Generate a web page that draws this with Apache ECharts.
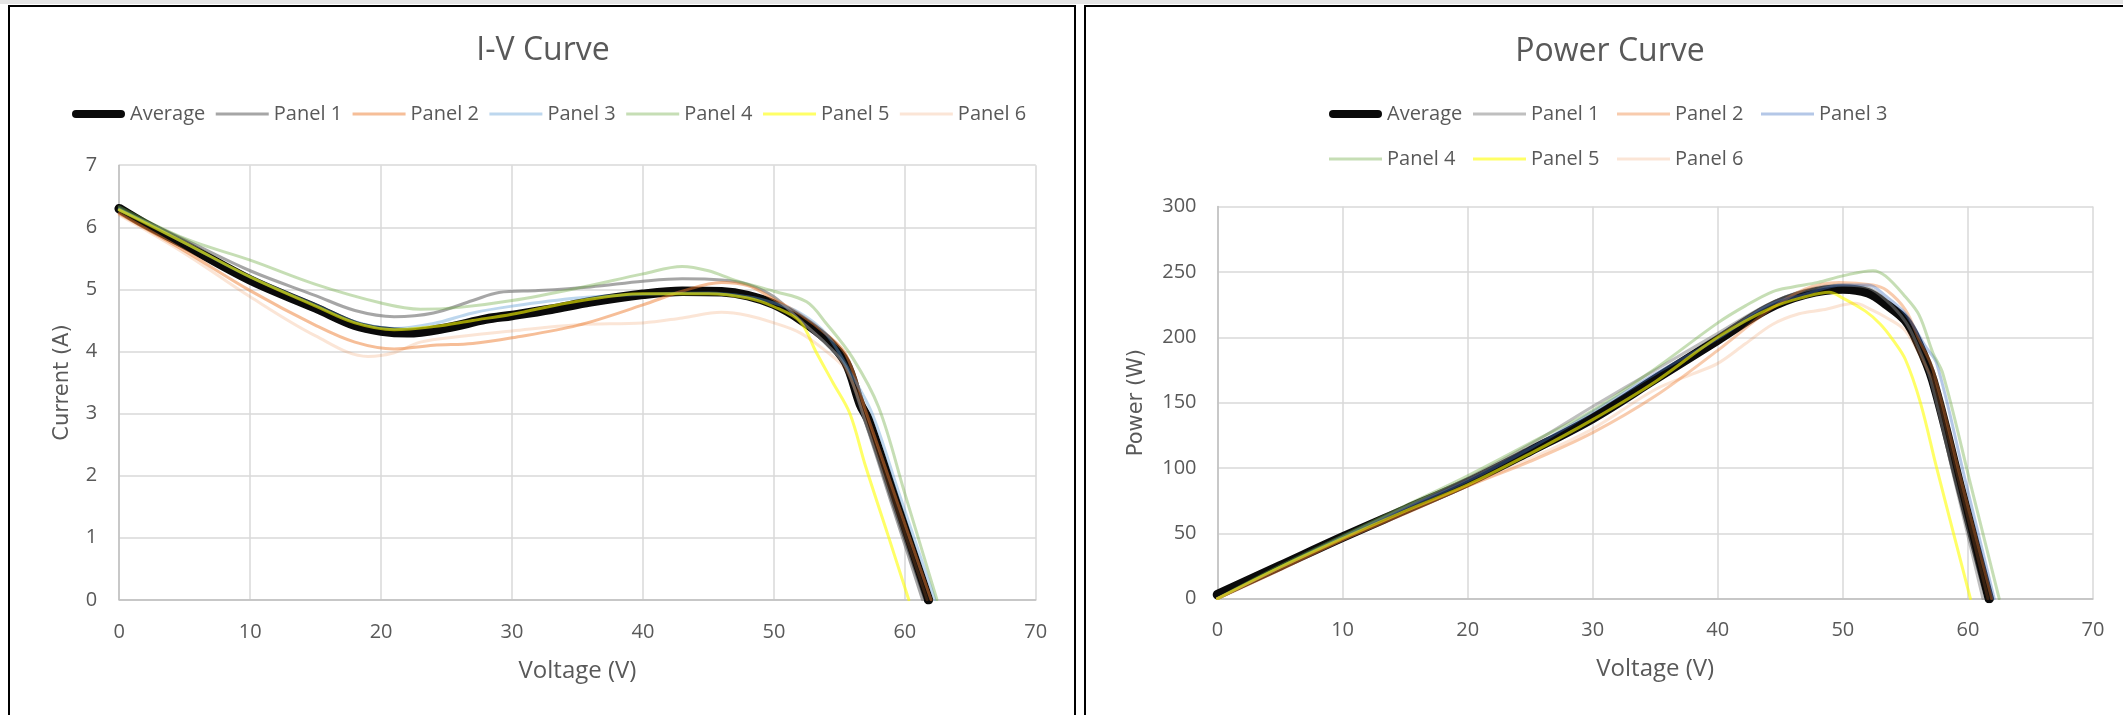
<!DOCTYPE html>
<html>
<head>
<meta charset="utf-8">
<script src="https://cdn.jsdelivr.net/npm/echarts@6/dist/echarts.min.js"></script>
<style>
html,body{margin:0;padding:0;background:#fff;overflow:hidden;width:2123px;height:715px;position:relative;}
#topband{position:absolute;left:0;top:0;width:2123px;height:4px;background:#e4e4e4;}
.frame{position:absolute;top:5px;height:760px;border:2px solid #000;box-sizing:border-box;background:#fff;}
#f1{left:8px;width:1068px;}
#f2{left:1084px;width:1060px;}
.chart{position:absolute;left:0;top:0;height:708px;}
#c1{width:1064px;}
#c2{width:1056px;}
</style>
</head>
<body>
<div id="topband"></div>
<div class="frame" id="f1"><div class="chart" id="c1"></div></div>
<div class="frame" id="f2"><div class="chart" id="c2"></div></div>
<script>
// ---------- names & ticks ----------
const seriesNames = ['Average', 'Panel 1', 'Panel 2', 'Panel 3', 'Panel 4', 'Panel 5', 'Panel 6'];
const voltageTicks = [0, 10, 20, 30, 40, 50, 60, 70];
const currentTicks = [0, 1, 2, 3, 4, 5, 6, 7];
const powerTicks = [0, 50, 100, 150, 200, 250, 300];

// ---------- I-V curve data (Voltage V, Current A) ----------
const ivVoltAvg = [0, 2, 5, 10, 15, 18, 20, 22, 25, 28, 30, 33, 36, 40, 43, 46, 48, 50, 52, 54, 55.5, 56.6, 57.2, 59.5, 61.8];
const ivCurrAvg = [6.30, 6.05, 5.72, 5.15, 4.70, 4.42, 4.33, 4.30, 4.38, 4.52, 4.58, 4.68, 4.80, 4.92, 4.97, 4.96, 4.90, 4.76, 4.52, 4.20, 3.82, 3.15, 2.90, 1.45, 0];

const ivVoltP1 = [0, 5, 10, 15, 18, 21, 24, 27, 29, 32, 36, 40, 43, 46, 48, 50, 52, 54, 55.5, 57, 59, 61.35];
const ivCurrP1 = [6.28, 5.80, 5.30, 4.90, 4.66, 4.56, 4.62, 4.82, 4.95, 4.98, 5.04, 5.13, 5.17, 5.15, 5.08, 4.88, 4.50, 4.12, 3.75, 2.85, 1.54, 0];

const ivVoltP2 = [0, 5, 10, 15, 18, 21, 24, 27, 30, 35, 40, 43, 46, 48, 50, 52, 54, 55.5, 57, 59, 62];
const ivCurrP2 = [6.22, 5.62, 4.98, 4.42, 4.15, 4.04, 4.10, 4.13, 4.22, 4.42, 4.75, 4.97, 5.11, 5.06, 4.84, 4.60, 4.28, 3.95, 3.05, 1.83, 0];

const ivVoltP3 = [0, 5, 10, 15, 18, 21, 24, 27, 30, 35, 40, 45, 48, 50, 52, 54, 56, 57.5, 59.5, 62.3];
const ivCurrP3 = [6.30, 5.75, 5.20, 4.75, 4.48, 4.37, 4.45, 4.62, 4.73, 4.86, 4.92, 4.94, 4.88, 4.78, 4.62, 4.28, 3.60, 3.00, 1.75, 0];

const ivVoltP4 = [0, 5, 10, 15, 20, 23, 26, 30, 35, 40, 43, 45, 47, 50, 52.5, 54, 56, 58, 60, 62.45];
const ivCurrP4 = [6.33, 5.82, 5.47, 5.08, 4.78, 4.68, 4.71, 4.82, 5.02, 5.25, 5.37, 5.30, 5.15, 4.97, 4.80, 4.45, 3.90, 3.10, 1.71, 0];

const ivVoltP5 = [0, 5, 10, 15, 18, 21, 24, 27, 30, 35, 40, 45, 48, 50, 52, 53.2, 54.5, 55.8, 57, 58.7, 60.3];
const ivCurrP5 = [6.28, 5.75, 5.20, 4.73, 4.46, 4.35, 4.40, 4.50, 4.60, 4.81, 4.93, 4.93, 4.86, 4.72, 4.48, 4.00, 3.50, 3.00, 2.15, 1.05, 0];

const ivVoltP6 = [0, 5, 10, 15, 19, 21, 23, 26, 30, 35, 40, 43, 46, 48, 50, 52, 54, 55.5, 57, 59, 61.7];
const ivCurrP6 = [6.20, 5.58, 4.88, 4.25, 3.92, 3.98, 4.15, 4.24, 4.33, 4.43, 4.46, 4.54, 4.63, 4.58, 4.46, 4.30, 4.00, 3.70, 2.95, 1.69, 0];

// ---------- Power curve data (Voltage V, Power W) ----------
const pwVoltAvg = [0, 5, 10, 15, 20, 25, 30, 35, 40, 44, 47, 50, 52, 53.5, 55, 56, 57.2, 59.5, 61.7];
const pwPowAvg = [3, 25, 47, 68, 89, 113, 138, 168, 198, 222, 233, 237, 234, 225, 213, 196, 167, 81, 0];

const pwVoltP1 = [0, 5, 10, 15, 20, 25, 30, 35, 40, 44, 47, 50, 52, 53.5, 55, 56, 57, 59, 61.2];
const pwPowP1 = [0, 24, 47, 70, 92, 118, 147, 175, 203, 225, 236, 240, 238, 228, 212, 193, 168, 88, 0];

const pwVoltP2 = [0, 5, 10, 15, 20, 25, 30, 35, 40, 44, 47, 49.7, 52.4, 53.5, 55, 56.1, 57.2, 59.5, 61.9];
const pwPowP2 = [0, 22, 45, 65, 86, 105, 127, 155, 190, 220, 237, 242, 240, 236, 221, 198, 175, 89, 0];

const pwVoltP3 = [0, 5, 10, 15, 20, 25, 30, 35, 40, 44, 47, 50, 52, 53.5, 55, 56.6, 57.5, 59.8, 62.1];
const pwPowP3 = [0, 24, 47, 69, 90, 115, 143, 172, 199, 224, 233, 240, 240, 231, 218, 193, 180, 90, 0];

const pwVoltP4 = [0, 5, 10, 15, 20, 25, 30, 35, 40, 42.2, 44.4, 46, 48, 50, 52.4, 53.4, 55, 56.1, 57.2, 58, 60.2, 62.5];
const pwPowP4 = [0, 25, 48, 71, 94, 119, 144, 176, 211, 224, 235, 238.5, 242, 247, 251, 247, 231, 217, 188, 172, 88, 0];

const pwVoltP5 = [0, 5, 10, 15, 20, 25, 30, 35, 40, 44.4, 47, 48.9, 50, 51.8, 53, 54, 55, 56.2, 57.5, 60.2];
const pwPowP5 = [0, 24, 46, 67, 87, 111, 137, 166, 200, 223, 231, 234.5, 230, 220, 210, 198, 183, 150, 100, 0];

const pwVoltP6 = [0, 5, 10, 15, 20, 25, 30, 35, 38, 40, 42.2, 44.4, 46.5, 48.4, 51, 52.1, 53.5, 55, 56.5, 57.3, 59.5, 61.6];
const pwPowP6 = [0, 23, 45, 66, 86, 107, 130, 160, 172, 180, 195, 210, 218, 221, 226, 222, 215, 205, 180, 165, 81, 0];

// ---------- assembly ----------
const ivX = [ivVoltAvg, ivVoltP1, ivVoltP2, ivVoltP3, ivVoltP4, ivVoltP5, ivVoltP6];
const ivY = [ivCurrAvg, ivCurrP1, ivCurrP2, ivCurrP3, ivCurrP4, ivCurrP5, ivCurrP6];
const pwX = [pwVoltAvg, pwVoltP1, pwVoltP2, pwVoltP3, pwVoltP4, pwVoltP5, pwVoltP6];
const pwY = [pwPowAvg, pwPowP1, pwPowP2, pwPowP3, pwPowP4, pwPowP5, pwPowP6];

const ivColors = ['#0a0a0a', 'rgba(128,128,128,0.7)', 'rgba(237,125,49,0.5)', 'rgba(91,155,213,0.4)', 'rgba(112,173,71,0.4)', 'rgba(255,255,0,0.6)', 'rgba(237,125,49,0.2)'];
const pwColors = ['#0a0a0a', 'rgba(128,128,128,0.5)', 'rgba(237,125,49,0.4)', 'rgba(68,114,196,0.4)', 'rgba(112,173,71,0.4)', 'rgba(255,255,0,0.6)', 'rgba(237,125,49,0.2)'];
const widths = [9.5, 3, 3, 3, 3, 3, 3];

const TXT = '#595959';
const FONT = "'Open Sans', 'Noto Sans', sans-serif";
const iconThick = 'path://M4,0H49A4,4 0 0 1 49,8H4A4,4 0 0 1 4,0Z';
const iconThin = 'path://M0,0H53V3H0Z';

function zip(xs, ys) { return xs.map((x, i) => [x, ys[i]]); }

function buildSeries(xs, ys, colors) {
  return seriesNames.map((name, i) => ({
    name: name,
    type: 'line',
    data: zip(xs[i], ys[i]),
    smooth: 0.35,
    showSymbol: false,
    symbol: 'none',
    color: colors[i],
    itemStyle: { color: colors[i] },
    lineStyle: { color: colors[i], width: widths[i], cap: 'round', join: 'round' },
    z: 2 + i,
    animation: false
  }));
}

function legendData(list) {
  return list.map(n => ({ name: n, icon: n === 'Average' ? iconThick : iconThin, itemStyle: { borderWidth: 0 } }));
}

function legendBase(extra) {
  return Object.assign({
    orient: 'horizontal',
    padding: 0,
    itemWidth: 53,
    itemHeight: 8,
    selectedMode: false,
    itemStyle: { borderWidth: 0 },
    textStyle: { color: TXT, fontSize: 20, fontFamily: FONT }
  }, extra);
}

function axisX(gap) {
  return {
    type: 'value', min: 0, max: 70, interval: 10,
    name: 'Voltage (V)', nameLocation: 'middle', nameGap: gap,
    nameTextStyle: { color: TXT, fontSize: 24, fontFamily: FONT },
    axisLine: { show: true, onZero: false, lineStyle: { color: '#BFBFBF', width: 1.5 } },
    axisTick: { show: false },
    axisLabel: { color: TXT, fontSize: 20, fontFamily: FONT, margin: 22 },
    splitLine: { show: true, lineStyle: { color: '#D9D9D9', width: 1.5 } }
  };
}

function axisY(name, min, max, interval, gap, margin) {
  return {
    type: 'value', min: min, max: max, interval: interval,
    name: name, nameLocation: 'middle', nameGap: gap,
    nameTextStyle: { color: TXT, fontSize: 21, fontFamily: "'DejaVu Sans', sans-serif" },
    axisLine: { show: true, lineStyle: { color: '#BFBFBF', width: 1.5 } },
    axisTick: { show: false },
    axisLabel: { color: TXT, fontSize: 20, fontFamily: FONT, margin: margin },
    splitLine: { show: true, lineStyle: { color: '#D9D9D9', width: 1.5 } }
  };
}

const chart1 = echarts.init(document.getElementById('c1'));
chart1.setOption({
  animation: false,
  backgroundColor: '#fff',
  textStyle: { fontFamily: FONT },
  graphic: [{
    type: 'text', x: 533, y: 44, silent: true,
    style: { text: 'I-V Curve', fill: TXT, fontSize: 32, fontFamily: FONT, align: 'center', verticalAlign: 'middle' }
  }],
  legend: legendBase({ left: 62, top: 97, itemGap: 10.5, data: legendData(seriesNames) }),
  grid: { left: 109.2, top: 158.2, width: 916.6, height: 434.6, containLabel: false, outerBoundsMode: 'none' },
  xAxis: axisX(59),
  yAxis: axisY('Current (A)', currentTicks[0], currentTicks[currentTicks.length - 1], 1, 46, 22),
  series: buildSeries(ivX, ivY, ivColors)
});

// Power legend: Excel lays out two rows with equal slots; one vertical legend per column
const pwLegendColumns = [['Average', 'Panel 4'], ['Panel 1', 'Panel 5'], ['Panel 2', 'Panel 6'], ['Panel 3']];

const chart2 = echarts.init(document.getElementById('c2'));
chart2.setOption({
  animation: false,
  backgroundColor: '#fff',
  textStyle: { fontFamily: FONT },
  graphic: [{
    type: 'text', x: 524, y: 45, silent: true,
    style: { text: 'Power Curve', fill: TXT, fontSize: 32, fontFamily: FONT, align: 'center', verticalAlign: 'middle' }
  }],
  legend: pwLegendColumns.map((col, k) => legendBase({
    orient: 'vertical', left: 243 + k * 144, top: 97, itemGap: 25, data: legendData(col)
  })),
  grid: { left: 131.5, top: 199.6, width: 875.5, height: 392, containLabel: false, outerBoundsMode: 'none' },
  xAxis: axisX(59),
  yAxis: axisY('Power (W)', powerTicks[0], powerTicks[powerTicks.length - 1], 50, 70, 21),
  series: buildSeries(pwX, pwY, pwColors)
});
</script>
</body>
</html>
